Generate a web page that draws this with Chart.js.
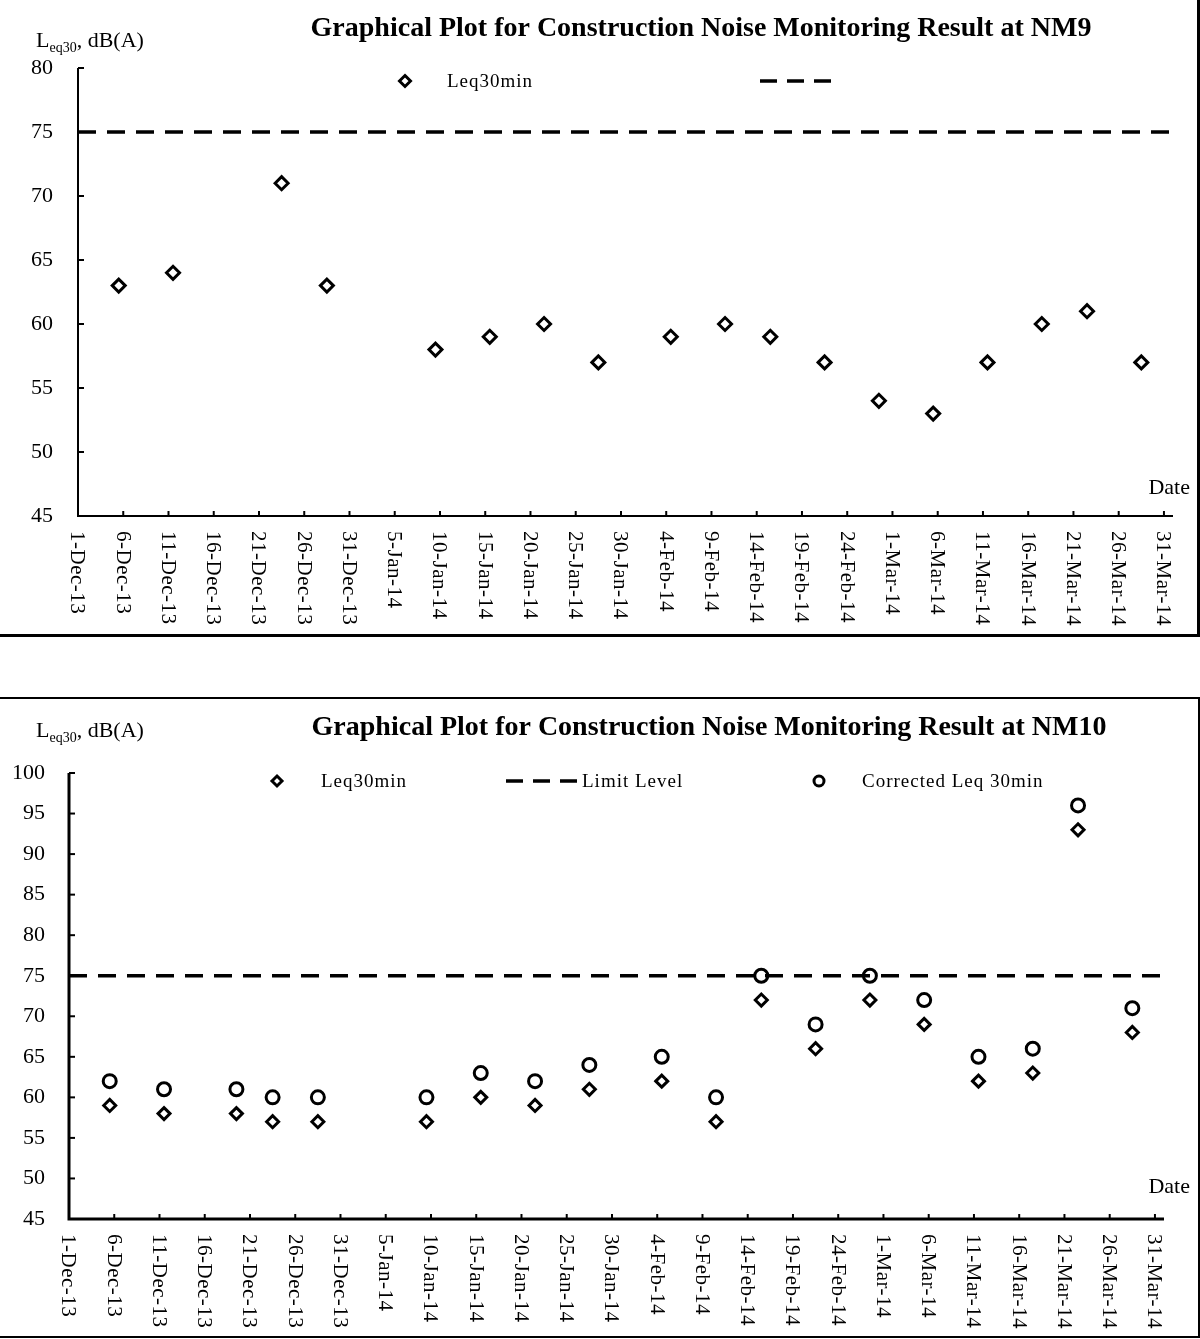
<!DOCTYPE html>
<html>
<head>
<meta charset="utf-8">
<script src="https://cdn.jsdelivr.net/npm/chart.js@4.4.0/dist/chart.umd.min.js"></script>
<style>
html, body { margin: 0; padding: 0; background: #fff; }
body { position: relative; width: 1200px; height: 1339px; overflow: hidden; }
canvas { position: absolute; left: 0; }
.box { position: absolute; box-sizing: border-box; border: 3px solid #000; pointer-events: none; }
</style>
</head>
<body>
<canvas id="nm9" width="1200" height="634" style="top:0"></canvas>
<div class="box" style="left:-3px;top:-3px;width:1203px;height:640px"></div>
<canvas id="nm10" width="1200" height="637" style="top:699px"></canvas>
<div class="box" style="left:-2px;top:697px;width:1202px;height:641px;border-width:2px"></div>
<script>
const xTickLabels = ['1-Dec-13','6-Dec-13','11-Dec-13','16-Dec-13','21-Dec-13','26-Dec-13','31-Dec-13',
	'5-Jan-14','10-Jan-14','15-Jan-14','20-Jan-14','25-Jan-14','30-Jan-14','4-Feb-14','9-Feb-14',
	'14-Feb-14','19-Feb-14','24-Feb-14','1-Mar-14','6-Mar-14','11-Mar-14','16-Mar-14','21-Mar-14',
	'26-Mar-14','31-Mar-14'];

const limitLevel = 75;

const nm9Dates = ['2013-12-05','2013-12-11','2013-12-23','2013-12-28','2014-01-09','2014-01-15',
	'2014-01-21','2014-01-27','2014-02-04','2014-02-10','2014-02-15','2014-02-21','2014-02-27',
	'2014-03-05','2014-03-11','2014-03-17','2014-03-22','2014-03-28'];
const nm9Leq = [63, 64, 71, 63, 58, 59, 60, 57, 59, 60, 59, 57, 54, 53, 57, 60, 61, 57];

const nm10Dates = ['2013-12-05','2013-12-11','2013-12-19','2013-12-23','2013-12-28','2014-01-09',
	'2014-01-15','2014-01-21','2014-01-27','2014-02-04','2014-02-10','2014-02-15','2014-02-21',
	'2014-02-27','2014-03-05','2014-03-11','2014-03-17','2014-03-22','2014-03-28'];
const nm10Leq = [59, 58, 58, 57, 57, 57, 60, 59, 61, 62, 57, 72, 66, 72, 69, 62, 63, 93, 68];
const nm10Corrected = [62, 61, 61, 60, 60, 60, 63, 62, 64, 65, 60, 75, 69, 75, 72, 65, 66, 96, 71];

const SERIF = '"Liberation Serif", "Times New Roman", serif';
const START = Date.UTC(2013, 11, 1);

// days since 1-Dec-13, measured at noon of the monitoring day
function dayOf(s) {
	const p = s.split('-').map(Number);
	return (Date.UTC(p[0], p[1] - 1, p[2], 12) - START) / 86400000;
}
function points(dates, vals) {
	return dates.map((d, i) => ({ x: dayOf(d), y: vals[i] }));
}

function drawMarker(ctx, type, x, y, r, w) {
	ctx.save();
	ctx.lineWidth = w;
	ctx.strokeStyle = '#000';
	ctx.beginPath();
	if (type === 'diamond') {
		ctx.moveTo(x, y - r); ctx.lineTo(x + r, y); ctx.lineTo(x, y + r); ctx.lineTo(x - r, y); ctx.closePath();
	} else {
		ctx.arc(x, y, r, 0, Math.PI * 2);
	}
	ctx.stroke();
	ctx.restore();
}

function decorPlugin(cfg) {
	return {
		id: 'decor',
		afterDraw(chart) {
			const ctx = chart.ctx;
			const a = chart.chartArea;
			const xs = chart.scales.x, ys = chart.scales.y;
			ctx.save();
			ctx.strokeStyle = '#000';
			ctx.fillStyle = '#000';

			// axes
			ctx.lineWidth = cfg.axisWidth;
			ctx.beginPath();
			ctx.moveTo(a.left, a.top);
			ctx.lineTo(a.left, a.bottom);
			ctx.lineTo(a.right, a.bottom);
			ctx.stroke();

			// x ticks (inside) + rotated labels
			ctx.lineWidth = 2;
			ctx.font = '21px ' + SERIF;
			ctx.letterSpacing = '0.5px';
			xTickLabels.forEach((lab, i) => {
				const px = xs.getPixelForValue(i * 5);
				ctx.beginPath();
				ctx.moveTo(px, a.bottom);
				ctx.lineTo(px, a.bottom - 5);
				ctx.stroke();
				ctx.save();
				ctx.translate(px, a.bottom + 15);
				ctx.rotate(Math.PI / 2);
				ctx.textAlign = 'left';
				ctx.textBaseline = 'middle';
				ctx.fillText(lab, 0, 1);
				ctx.restore();
			});
			ctx.letterSpacing = '0px';

			// y ticks (inside)
			ys.ticks.forEach(t => {
				const py = ys.getPixelForValue(t.value);
				ctx.beginPath();
				ctx.moveTo(a.left, py);
				ctx.lineTo(a.left + 6, py);
				ctx.stroke();
			});

			// title
			ctx.textAlign = 'center';
			ctx.textBaseline = 'alphabetic';
			ctx.font = 'bold 28px ' + SERIF;
			ctx.fillText(cfg.title, cfg.titleX, cfg.titleY);

			// y axis title: L(eq30), dB(A)
			ctx.textAlign = 'left';
			ctx.font = '22px ' + SERIF;
			let x0 = 36;
			ctx.fillText('L', x0, cfg.yTitleY);
			x0 += ctx.measureText('L').width;
			ctx.font = '14px ' + SERIF;
			ctx.fillText('eq30', x0, cfg.yTitleY + 5);
			x0 += ctx.measureText('eq30').width;
			ctx.font = '22px ' + SERIF;
			ctx.fillText(', dB(A)', x0, cfg.yTitleY);

			// x axis title
			ctx.textAlign = 'right';
			ctx.font = '22px ' + SERIF;
			ctx.fillText('Date', 1190, cfg.dateY);

			// legend
			ctx.textAlign = 'left';
			ctx.textBaseline = 'middle';
			ctx.font = '19px ' + SERIF;
			ctx.letterSpacing = '1px';
			cfg.legend.forEach(it => {
				if (it.type === 'dash') {
					ctx.save();
					ctx.lineWidth = 3.5;
					ctx.setLineDash([17, 10]);
					ctx.beginPath();
					ctx.moveTo(it.x, cfg.legendY);
					ctx.lineTo(it.x2, cfg.legendY);
					ctx.stroke();
					ctx.restore();
				} else {
					drawMarker(ctx, it.type, it.x, cfg.legendY, it.r, 3);
				}
				if (it.text) ctx.fillText(it.text, it.tx, cfg.legendY + 1);
			});
			ctx.restore();
		}
	};
}

function makeChart(id, cfg) {
	const datasets = [{
		type: 'line',
		data: [{ x: 0, y: limitLevel }, { x: 121, y: limitLevel }],
		borderColor: '#000',
		borderWidth: 3.5,
		borderDash: [18, 11],
		pointRadius: 0,
		showLine: true
	}];
	cfg.series.forEach(s => datasets.push({
		data: s.data,
		pointStyle: s.style,
		pointRadius: s.r,
		pointBorderWidth: 3,
		borderColor: '#000',
		backgroundColor: 'rgba(0,0,0,0)',
		pointBackgroundColor: 'rgba(0,0,0,0)',
		showLine: false
	}));
	return new Chart(document.getElementById(id), {
		type: 'scatter',
		data: { datasets },
		plugins: [decorPlugin(cfg)],
		options: {
			responsive: false,
			animation: false,
			layout: { padding: { top: cfg.padTop, right: cfg.padRight, left: 0, bottom: 0 } },
			plugins: { legend: { display: false }, tooltip: { enabled: false } },
			scales: {
				x: {
					type: 'linear', min: 0, max: 121,
					grid: { display: false, drawTicks: false },
					border: { display: false },
					ticks: { display: false, stepSize: 5, includeBounds: false },
					afterFit(s) { s.height = cfg.xHeight; }
				},
				y: {
					min: cfg.yMin, max: cfg.yMax,
					grid: { display: false, drawTicks: false },
					border: { display: false },
					ticks: { stepSize: 5, padding: cfg.yPad, color: '#000', font: { family: SERIF, size: 22 } },
					afterFit(s) { s.width = cfg.yWidth; }
				}
			}
		}
	});
}

makeChart('nm9', {
	title: 'Graphical Plot for Construction Noise Monitoring Result at NM9',
	titleX: 701, titleY: 36,
	yTitleY: 47, dateY: 494, legendY: 81,
	axisWidth: 2,
	padTop: 68, padRight: 27, xHeight: 118, yWidth: 78, yPad: 25,
	yMin: 45, yMax: 80,
	series: [{ data: points(nm9Dates, nm9Leq), style: 'rectRot', r: 6.5 }],
	legend: [
		{ type: 'diamond', x: 405, r: 5.5, text: 'Leq30min', tx: 447 },
		{ type: 'dash', x: 760, x2: 832 }
	]
});

makeChart('nm10', {
	title: 'Graphical Plot for Construction Noise Monitoring Result at NM10',
	titleX: 709, titleY: 36,
	yTitleY: 38, dateY: 494, legendY: 82,
	axisWidth: 3,
	padTop: 74, padRight: 36, xHeight: 117, yWidth: 69, yPad: 24,
	yMin: 45, yMax: 100,
	series: [
		{ data: points(nm10Dates, nm10Leq), style: 'rectRot', r: 6 },
		{ data: points(nm10Dates, nm10Corrected), style: 'circle', r: 6.5 }
	],
	legend: [
		{ type: 'diamond', x: 277, r: 5, text: 'Leq30min', tx: 321 },
		{ type: 'dash', x: 506, x2: 578, text: 'Limit Level', tx: 582 },
		{ type: 'circle', x: 819, r: 5, text: 'Corrected Leq 30min', tx: 862 }
	]
});
</script>
</body>
</html>
